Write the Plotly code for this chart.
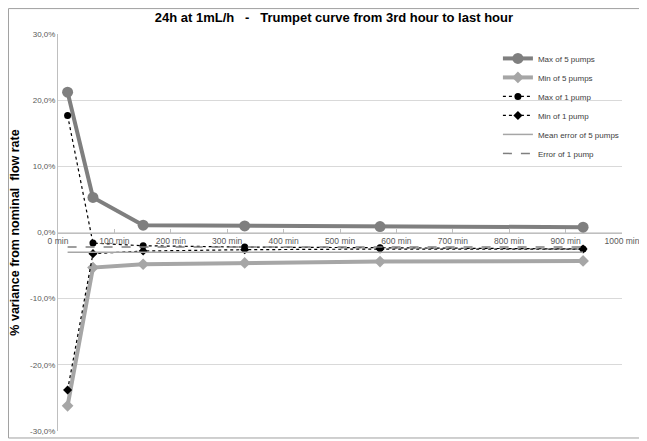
import plotly.graph_objects as go

minutes = [17, 62, 151, 331, 571, 931]
max5 = [21.2, 5.3, 1.1, 1.0, 0.9, 0.8]
min5 = [-26.2, -5.3, -4.8, -4.6, -4.4, -4.3]
max1 = [17.7, -1.6, -2.0, -2.2, -2.3, -2.5]
min1 = [-23.8, -3.2, -2.8, -2.6, -2.5, -2.5]
mean5 = [-3.0, -3.0, -3.0, -3.0, -3.0, -3.0]
err1 = [-2.2, -2.2, -2.2, -2.2, -2.2, -2.2]
xticks = [0, 100, 200, 300, 400, 500, 600, 700, 800, 900, 1000]
xticklabels = [f"{v} min" for v in xticks]
yticks = [-30, -20, -10, 0, 10, 20, 30]
yticklabels = ["-30,0%", "-20,0%", "-10,0%", "0,0%", "10,0%", "20,0%", "30,0%"]

FONT = "Liberation Sans"
fig = go.Figure()
fig.add_trace(go.Scatter(x=minutes, y=max5, name="Max of 5 pumps", mode="lines+markers",
                         line=dict(color="#7f7f7f", width=4), marker=dict(symbol="circle", size=11, color="#7f7f7f")))
fig.add_trace(go.Scatter(x=minutes, y=min5, name="Min of 5 pumps", mode="lines+markers",
                         line=dict(color="#a6a6a6", width=4), marker=dict(symbol="diamond", size=9, color="#a6a6a6")))
fig.add_trace(go.Scatter(x=minutes, y=max1, name="Max of 1 pump", mode="lines+markers",
                         line=dict(color="black", width=1.2, dash="dot"), marker=dict(symbol="circle", size=7, color="black")))
fig.add_trace(go.Scatter(x=minutes, y=min1, name="Min of 1 pump", mode="lines+markers",
                         line=dict(color="black", width=1.2, dash="dot"), marker=dict(symbol="diamond", size=7, color="black")))
fig.add_trace(go.Scatter(x=minutes, y=mean5, name="Mean error of 5 pumps", mode="lines",
                         line=dict(color="#a6a6a6", width=1.5)))
fig.add_trace(go.Scatter(x=minutes, y=err1, name="Error of 1 pump", mode="lines",
                         line=dict(color="#7f7f7f", width=1.5, dash="dash")))

fig.update_layout(
    width=639, height=433,
    margin=dict(l=50, r=25, t=26, b=10, autoexpand=False),
    paper_bgcolor="white", plot_bgcolor="white",
    font=dict(family=FONT, size=9, color="#595959"),
    title=dict(text="<b>24h at 1mL/h   -   Trumpet curve from 3rd hour to last hour</b>",
               x=0.51, xanchor="center", y=0.979, yanchor="middle", automargin=False,
               font=dict(family=FONT, size=13, color="black")),
    legend=dict(x=0.78, y=0.975, xanchor="left", yanchor="top", bgcolor="rgba(0,0,0,0)",
                font=dict(family=FONT, size=8, color="#404040"), tracegroupgap=0, itemwidth=30),
    showlegend=True,
    xaxis=dict(range=[0, 1000], tickvals=xticks, ticktext=xticklabels, showgrid=False, zeroline=False,
               showline=True, linecolor="#bfbfbf", linewidth=1, ticks="inside", ticklen=4, tickcolor="#bfbfbf",
               anchor="free", position=0.5, automargin=False, tickfont=dict(size=8.5, color="#595959")),
    yaxis=dict(range=[-30, 30], tickvals=yticks, ticktext=yticklabels, showgrid=True,
               gridcolor="#d9d9d9", zeroline=False, showline=True, linecolor="#bfbfbf", linewidth=1,
               tickfont=dict(size=8, color="#595959"), ticks="", automargin=False,
               title=dict(text="<b>% variance from nominal  flow rate</b>", standoff=7,
                          font=dict(family=FONT, size=12.5, color="black"))),
)
fig.add_shape(type="rect", xref="paper", yref="paper", x0=-0.0878, x1=1.037, y0=-0.0176, y1=1.064,
              line=dict(color="#a0a0a0", width=1), fillcolor="rgba(0,0,0,0)", layer="below")

fig.write_html("out.html")
